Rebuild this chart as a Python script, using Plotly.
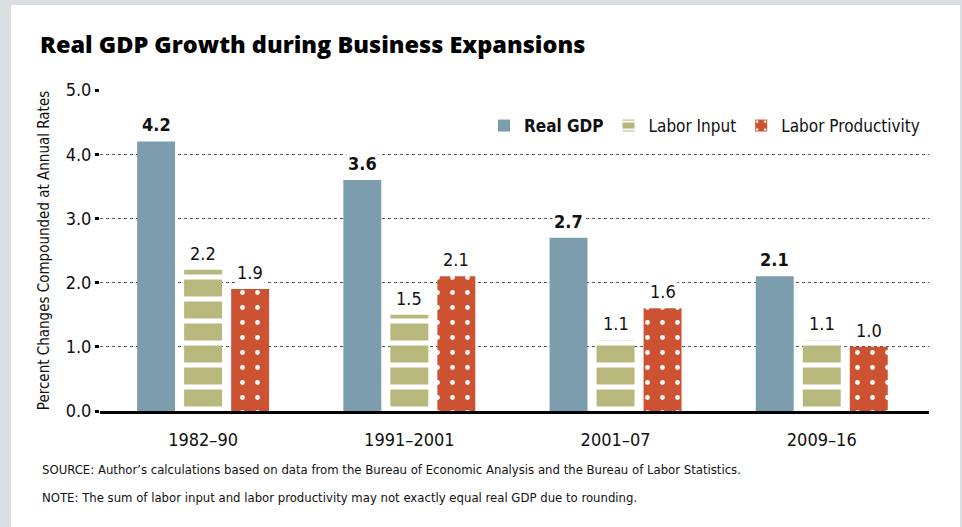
import plotly.graph_objects as go

# data
periods = ["1982–90", "1991–2001", "2001–07", "2009–16"]
real_gdp = [4.2, 3.6, 2.7, 2.1]
labor_input = [2.2, 1.5, 1.1, 1.1]
labor_productivity = [1.9, 2.1, 1.6, 1.0]
y_ticks = [0, 1, 2, 3, 4, 5]

W, H = 962, 527
L, R, T, B = 100, 929, 90, 411   # plot area in pixels

FONT = "DejaVu Sans Condensed, Liberation Sans Narrow, Arial Narrow, sans-serif"
BLUE, KHAKI, RED = "#7b9dad", "#b8b77c", "#cc5232"
BAR_W = 0.184


def px_x(p):
    return (p - L) / (R - L)


def px_y(p):
    return (B - p) / (B - T)


series = [
    ("<b>Real GDP</b>", real_gdp, BLUE, None, -0.32, True),
    ("Labor Input", labor_input, KHAKI, dict(shape="-", fgcolor="white", bgcolor=KHAKI, fgopacity=1,
                                             size=22, solidity=0.23, fillmode="overlay"), -0.092, False),
    ("Labor Productivity", labor_productivity, RED, dict(shape=".", fgcolor="white", bgcolor=RED, fgopacity=1,
                                                         size=15, solidity=0.08, fillmode="overlay"), 0.136, False),
]

fig = go.Figure()
annotations = []
for name, vals, color, pattern, off, bold in series:
    marker = dict(color=color, line=dict(width=0))
    if pattern:
        marker["pattern"] = pattern
    fig.add_trace(go.Bar(
        x=periods, y=vals, name=name, width=BAR_W, offset=off,
        marker=marker, hoverinfo="skip",
    ))
    for i, v in enumerate(vals):
        annotations.append(dict(
            x=i + off + BAR_W / 2, y=v, xref="x", yref="y",
            text=f"<b>{v:.1f}</b>" if bold else f"{v:.1f}",
            showarrow=False, yanchor="bottom", yshift=4,
            bgcolor="white", borderpad=1,
            font=dict(family=FONT, size=18, color="#111"),
        ))

annotations += [
    dict(x=px_x(40), y=px_y(469), xref="paper", yref="paper", xanchor="left", yanchor="middle",
         showarrow=False, font=dict(family=FONT, size=13, color="#111"),
         text="SOURCE: Author’s calculations based on data from the Bureau of Economic Analysis and the Bureau of Labor Statistics."),
    dict(x=px_x(40), y=px_y(497), xref="paper", yref="paper", xanchor="left", yanchor="middle",
         showarrow=False, font=dict(family=FONT, size=13, color="#111"),
         text="NOTE: The sum of labor input and labor productivity may not exactly equal real GDP due to rounding."),
]

# grey frame around the white panel
GREY = "#d9dee1"
shapes = [
    dict(type="rect", xref="paper", yref="paper", x0=px_x(0), x1=px_x(11), y0=px_y(H), y1=px_y(0),
         fillcolor=GREY, line_width=0, layer="below"),
    dict(type="rect", xref="paper", yref="paper", x0=px_x(0), x1=px_x(W), y0=px_y(5), y1=px_y(0),
         fillcolor=GREY, line_width=0, layer="below"),
    dict(type="rect", xref="paper", yref="paper", x0=px_x(960), x1=px_x(W), y0=px_y(H), y1=px_y(0),
         fillcolor=GREY, line_width=0, layer="below"),
]

fig.update_layout(
    width=W, height=H,
    margin=dict(l=L, r=W - R, t=T, b=H - B),
    paper_bgcolor="white", plot_bgcolor="white",
    barmode="overlay",
    font=dict(family=FONT, size=17, color="#111"),
    title=dict(text="Real GDP Growth during Business Expansions", xref="container", yref="container",
               x=40 / W, y=1 - 45 / H, xanchor="left", yanchor="middle",
               font=dict(family="Open Sans, sans-serif", size=23.5, weight=800, color="#000")),
    legend=dict(orientation="h", x=px_x(925), xanchor="right", y=px_y(126), yanchor="middle",
                bgcolor="rgba(0,0,0,0)", font=dict(family=FONT, size=17, color="#111"),
                itemclick=False, traceorder="normal"),
    annotations=annotations,
    shapes=shapes,
    showlegend=True,
)

fig.update_xaxes(
    type="category", range=[-0.5, 3.52], showgrid=False,
    showline=True, linecolor="#000", linewidth=3,
    ticks="", tickfont=dict(family=FONT, size=18, color="#111"),
    ticklabelstandoff=10,
)
fig.update_yaxes(
    range=[0, 5.001], tickvals=y_ticks, tickformat=".1f",
    showgrid=True, gridcolor="#555", gridwidth=1, griddash="dot",
    zeroline=False, showline=False,
    ticks="outside", ticklen=4, tickwidth=3, tickcolor="#000",
    tickfont=dict(family=FONT, size=18, color="#111"),
    title=dict(text="Percent Changes Compounded at Annual Rates", standoff=12,
               font=dict(family=FONT, size=15, color="#111")),
)

# the page's default 8px body margin would shift the whole figure
fig.write_html("out.html", config={"displayModeBar": False},
               post_script="document.body.style.margin='0';")
